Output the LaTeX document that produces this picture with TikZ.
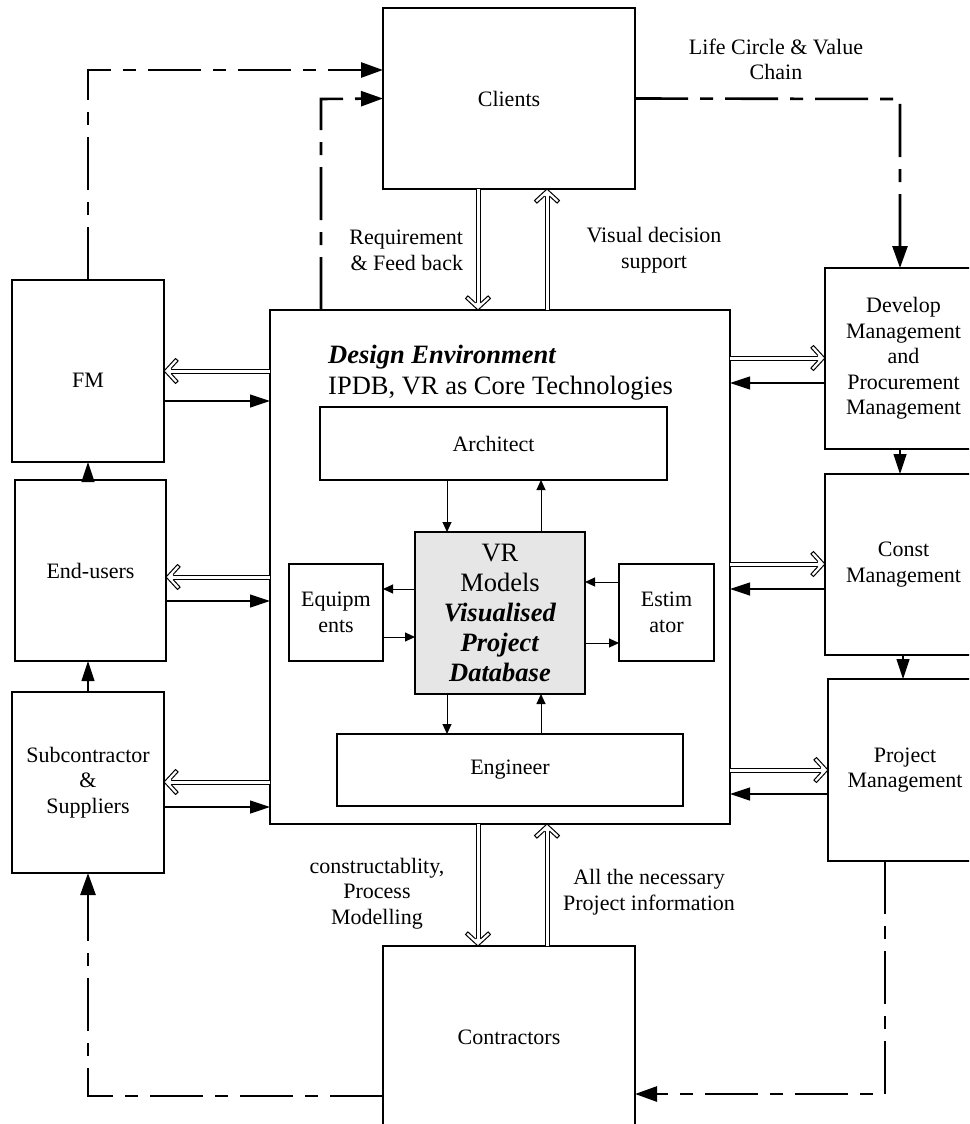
\documentclass[tikz,border=0pt]{standalone}
\usepackage{fontspec}
\setmainfont{Liberation Serif}
\usetikzlibrary{arrows.meta,decorations.markings}
\newcommand\fsN{\fontsize{22}{25.6}\selectfont}
\newcommand\fsB{\fontsize{26.5}{30}\selectfont}
\definecolor{vrgray}{HTML}{E6E6E6}
\begin{document}
\begin{tikzpicture}[x=1pt,y=-1pt,
  box/.style={draw, line width=1.2pt, inner sep=0pt, outer sep=0pt, align=center, font=\fsN},
  txt/.style={inner sep=0pt, outer sep=0pt, align=center, font=\fsN},
  mainbox/.style={draw, line width=2.4pt, inner sep=0pt, outer sep=0pt},
  sa/.style={line width=1.2pt, -{Triangle[length=20pt,width=13pt]}},
  sm/.style={line width=1pt, -{Triangle[length=10pt,width=9pt]}},
  dd/.style={line width=2.6pt, dash pattern=on 53pt off 12pt on 13pt off 12pt, -{Triangle[length=22pt,width=15pt]}},
  hol/.style={line width=1pt, double, double distance=3pt, shorten >=4pt,
    postaction={decorate, decoration={markings, mark=at position 1 with {
      \fill[white] (0,0) -- (-11.5,12.5) -- (-14.1,10.1) -- (-7.1,2.5) -- (-7.1,-2.5) -- (-14.1,-10.1) -- (-11.5,-12.5) -- cycle;
      \draw[line width=1pt, shorten >=0pt, shorten <=0pt, line join=miter]
        (-7.1,2.5) -- (-14.1,10.1) -- (-11.5,12.5) -- (0,0) -- (-11.5,-12.5) -- (-14.1,-10.1) -- (-7.1,-2.5);
    }}}}
]
\useasboundingbox (0,0) rectangle (969,1124);
\clip (0,0) rectangle (969,1124);

% top
\node[box, minimum width=252pt, minimum height=181pt] (Clients) at (509,98.5) {Clients};

% main
\node[mainbox, minimum width=460pt, minimum height=514pt] (Main) at (500,567) {};
\node[inner sep=0pt, anchor=base west, font=\fsB] (de) at (328,363) {\textbf{\textit{Design Environment}}};
\node[inner sep=0pt, anchor=base west, font=\fsB] (ipdb) at (328,394) {IPDB, VR as Core Technologies};
\node[box, minimum width=347pt, minimum height=73pt] (Arch) at (493.5,443.5) {Architect};
\node[box, fill=vrgray, minimum width=170pt, minimum height=162pt, font=\fsB, text depth=0pt] (VR) at (500,613)
  {VR\\Models\\\textbf{\textit{Visualised}}\\\textbf{\textit{Project}}\\\textbf{\textit{Database}}};
\node[box, minimum width=94pt, minimum height=97pt] (Eq) at (336,612.5) {Equipm\\ents};
\node[box, minimum width=95pt, minimum height=97pt] (Est) at (666.5,612.5) {Estim\\ator};
\node[box, minimum width=346pt, minimum height=72pt] (Eng) at (510,770) {Engineer};

% left column
\node[box, minimum width=152pt, minimum height=182pt] (FM) at (88,371) {};
\node[txt] (fmt) at (88,380) {FM};
\node[box, minimum width=151pt, minimum height=181pt] (EU) at (90.5,570.5) {End-users};
\node[box, minimum width=152pt, minimum height=181pt] (Sub) at (88,782.5) {Subcontractor\\\&\\Suppliers};

% right column
\node[box, minimum width=157pt, minimum height=181pt] (Dev) at (903.5,358.5) {Develop\\Management\\and\\Procurement\\Management};
\node[box, minimum width=157pt, minimum height=181pt] (Const) at (903.5,564.5) {Const\\Management};
\node[box, minimum width=154pt, minimum height=182pt] (PM) at (905,770) {Project\\Management};

% bottom
\node[box, minimum width=252pt, minimum height=182pt] (Contr) at (509,1037) {Contractors};

% labels
\node[txt, align=right, anchor=east] (lreq) at (463,250.5) {Requirement\\\& Feed back};
\node[txt] (lvis) at (654,250.5) {Visual decision\\support};
\node[txt] (llife) at (776,59.5) {Life Circle \& Value\\Chain};
\node[txt] (lcons) at (377,893.5) {constructablity,\\Process\\Modelling};
\node[txt] (lall) at (649,892) {All the necessary\\Project information};

% dash-dot connectors
\coordinate (c4) at (88,70);
\draw[dd] (FM.north) -- (c4) -- (c4 -| Clients.west);
\coordinate (c5) at (321,99);
\draw[dd] (Main.north -| c5) -- (c5) -- (Clients.west);
\coordinate (c1) at (900,99);
\draw[dd] (Clients.east) -- (c1) -- (c1 |- Dev.north);
\coordinate (c2) at (885,1094);
\draw[dd] (PM.south -| c2) -- (c2) -- (c2 -| Contr.east);
\coordinate (c3) at (88,1096);
\draw[dd] (Contr.west |- c3) -- (c3) -- (Sub.south);

% hollow arrows
\draw[hol] (Clients.south -| 478,0) -- (Main.north -| 478,0);
\draw[hol] (Main.north -| 547,0) -- (Clients.south -| 547,0);
\draw[hol] (Main.south -| 478,0) -- (Contr.north -| 478,0);
\draw[hol] (Contr.north -| 547,0) -- (Main.south -| 547,0);
\draw[hol] (Main.west |- 0,371) -- (FM.east |- 0,371);
\draw[hol] (Main.west |- 0,577) -- (EU.east |- 0,577);
\draw[hol] (Main.west |- 0,782) -- (Sub.east |- 0,782);
\draw[hol] (Main.east |- 0,358) -- (Dev.west |- 0,358);
\draw[hol] (Main.east |- 0,564) -- (Const.west |- 0,564);
\draw[hol] (Main.east |- 0,770) -- (PM.west |- 0,770);

% solid side arrows
\draw[sa] (FM.east |- 0,401) -- (Main.west |- 0,401);
\draw[sa] (EU.east |- 0,601) -- (Main.west |- 0,601);
\draw[sa] (Sub.east |- 0,807) -- (Main.west |- 0,807);
\draw[sa] (Dev.west |- 0,383) -- (Main.east |- 0,383);
\draw[sa] (Const.west |- 0,589) -- (Main.east |- 0,589);
\draw[sa] (PM.west |- 0,794) -- (Main.east |- 0,794);

% column arrows
\draw[sa] (EU.north -| FM.south) -- (FM.south);
\draw[sa] (Sub.north) -- (EU.south -| Sub.north);
\draw[sa] (Dev.south -| 900,0) -- (Const.north -| 900,0);
\draw[sa] (Const.south -| 903,0) -- (PM.north -| 903,0);

% inner arrows
\draw[sm] (Arch.south -| 447,0) -- (VR.north -| 447,0);
\draw[sm] (VR.north -| 541,0) -- (Arch.south -| 541,0);
\draw[sm] (VR.west |- 0,589) -- (Eq.east |- 0,589);
\draw[sm] (Eq.east |- 0,637) -- (VR.west |- 0,637);
\draw[sm] (Est.west |- 0,582) -- (VR.east |- 0,582);
\draw[sm] (VR.east |- 0,643) -- (Est.west |- 0,643);
\draw[sm] (VR.south -| 447,0) -- (Eng.north -| 447,0);
\draw[sm] (Eng.north -| 541,0) -- (VR.south -| 541,0);
\end{tikzpicture}
\end{document}
